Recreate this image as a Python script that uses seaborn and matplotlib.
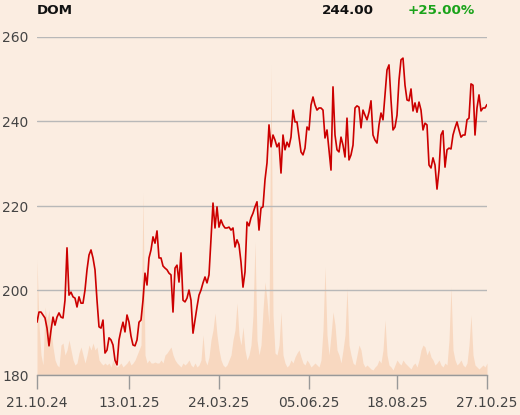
import numpy as np
import matplotlib
matplotlib.use("Agg")
import matplotlib.pyplot as plt
import seaborn as sns

# --------------------------
# Data (one point per ~trading day step)
# --------------------------
price = [
    192.5, 194.9, 194.9, 194.2, 193.5, 191.1, 186.9, 190.6, 193.7, 191.8,
    193.7, 194.7, 193.7, 193.5, 197.7, 210.1, 198.9, 199.6, 198.5, 198.2,
    196.1, 198.5, 197.0, 197.0, 200.1, 204.9, 208.4, 209.6, 207.7, 204.9,
    197.7, 191.4, 191.1, 193.0, 185.2, 185.9, 188.8, 188.3, 187.1, 183.5,
    182.4, 188.3, 190.6, 192.5, 190.2, 194.2, 192.5, 189.2, 187.1, 186.9,
    188.3, 192.5, 193.0, 197.7, 204.1, 201.3, 207.7, 209.6, 212.7, 211.2,
    214.1, 207.7, 207.7, 205.8, 205.3, 204.9, 204.1, 203.7, 194.9, 205.3,
    206.0, 202.0, 208.9, 197.7, 197.3, 198.2, 200.1, 197.7, 189.9, 193.0,
    196.1, 198.9, 200.1, 201.8, 203.2, 201.8, 203.7, 212.0, 220.7, 214.8,
    219.8, 215.0, 216.7, 215.5, 214.8, 214.8, 215.0, 214.3, 214.8, 210.3,
    212.0, 210.8, 206.7, 200.8, 204.4, 216.2, 215.3, 217.2, 218.3, 219.8,
    221.0, 214.3, 219.5, 219.8, 226.2, 230.2, 239.2, 234.0, 236.8, 235.6,
    234.0, 234.9, 227.8, 236.8, 233.3, 235.1, 234.0, 236.3, 242.7, 239.9,
    239.9, 236.3, 232.8, 232.1, 233.7, 238.7, 238.0, 243.9, 245.8, 243.9,
    242.7, 243.2, 243.2, 242.7, 236.1, 238.0, 233.3, 228.5, 248.2, 236.8,
    233.3, 232.8, 236.3, 234.4, 231.6, 240.8, 230.9, 232.1, 234.4, 243.2,
    243.7, 243.4, 238.5, 242.7, 241.5, 240.4, 242.2, 244.9, 236.8, 235.6,
    234.9, 239.2, 242.0, 240.4, 246.3, 252.2, 253.4, 245.1, 238.0, 238.7,
    241.5, 249.8, 254.6, 255.0, 248.6, 245.1, 244.9, 247.7, 242.5, 244.4,
    242.2, 244.6, 242.7, 238.0, 239.6, 239.2, 229.7, 229.0, 231.4, 229.7,
    224.0, 228.5, 236.8, 237.8, 229.2, 233.3, 233.7, 233.5, 236.8, 238.5,
    239.9, 238.0, 236.3, 236.8, 236.8, 240.4, 240.8, 248.9, 248.6, 236.8,
    243.2, 246.3, 242.5, 243.2, 243.2, 244.0,
]

# traded volume (thousands, relative)
volume = [
    115, 50, 20, 10, 68, 55, 65, 45, 28, 15,
    10, 8, 30, 32, 20, 25, 35, 25, 15, 10,
    12, 22, 28, 20, 12, 20, 30, 25, 32, 25,
    28, 15, 12, 10, 12, 10, 12, 8, 15, 10,
    8, 10, 12, 8, 10, 12, 15, 10, 12, 15,
    20, 25, 30, 182, 20, 12, 15, 12, 12, 13,
    12, 12, 15, 12, 20, 22, 25, 28, 20, 15,
    12, 10, 8, 12, 10, 12, 15, 10, 8, 12,
    8, 10, 15, 40, 15, 10, 18, 35, 45, 62,
    40, 25, 15, 10, 8, 10, 15, 20, 35, 45,
    72, 40, 30, 48, 25, 15, 20, 30, 60, 133,
    35, 20, 30, 65, 93, 75, 50, 310, 60, 22,
    20, 30, 63, 20, 12, 8, 10, 15, 12, 18,
    22, 25, 18, 12, 10, 15, 12, 8, 10, 12,
    10, 8, 15, 45, 108, 40, 20, 40, 63, 50,
    25, 20, 12, 25, 40, 87, 30, 20, 12, 10,
    20, 30, 25, 12, 8, 10, 8, 6, 5, 8,
    10, 15, 12, 25, 55, 20, 10, 8, 5, 10,
    15, 12, 10, 15, 12, 10, 8, 6, 10, 12,
    8, 15, 25, 30, 28, 20, 25, 18, 15, 10,
    12, 15, 10, 8, 12, 10, 35, 88, 25, 15,
    10, 12, 15, 10, 8, 12, 30, 60, 20, 10,
    8, 6, 8, 10, 8, 12,
]

tick_labels = ["21.10.24", "13.01.25", "24.03.25", "05.06.25", "18.08.25", "27.10.25"]
tick_pos = [0, 46, 91, 136, 180, 225]
y_ticks = [180, 200, 220, 240, 260]

ticker = "DOM"
last_price = "244.00"
change = "+25.00%"

# --------------------------
# Style
# --------------------------
BG = "#fbede1"
sns.set_theme(style="white", rc={"axes.facecolor": BG, "figure.facecolor": BG})
plt.rcParams["font.family"] = ["DejaVu Sans"]

idx = np.arange(len(price))

fig = plt.figure(figsize=(5.2, 4.15), dpi=100)
ax = fig.add_axes([37 / 520, 40 / 415, 450 / 520, 338 / 415])

# volume area behind the price line
ax_vol = ax.twinx()
ax_vol.fill_between(idx, volume, color="#f8d8c0", lw=0)
ax_vol.set_ylim(0, 338)
ax_vol.set_axis_off()
ax_vol.set_zorder(1)
ax.set_zorder(2)
ax.patch.set_visible(False)

sns.lineplot(x=idx, y=price, ax=ax, color="#cc0000", linewidth=1.2)

ax.set_xlim(0, len(price) - 1)
ax.set_ylim(180, 260)
ax.set_yticks(y_ticks)
ax.set_xticks(tick_pos)
ax.set_xticklabels(tick_labels)
ax.yaxis.grid(True, color="#b8b8b8", linewidth=1)
ax.xaxis.grid(False)
ax.set_xlabel("")
ax.set_ylabel("")

for side in ["top", "right", "left"]:
    ax.spines[side].set_visible(False)
ax.spines["bottom"].set_color("#999999")
ax.spines["bottom"].set_linewidth(1)
ax.tick_params(axis="x", length=10, width=1, color="#999999", labelsize=10,
               labelcolor="#444444", pad=5, bottom=True)
ax.tick_params(axis="y", length=0, labelsize=10, labelcolor="#444444", pad=6)

# header
fig.text(37 / 520, 1 - 10 / 415, ticker, fontsize=9.7, fontweight="bold",
         color="#111111", va="center", ha="left")
fig.text(374 / 520, 1 - 10 / 415, last_price, fontsize=9.7, fontweight="bold",
         color="#111111", va="center", ha="right")
fig.text(475 / 520, 1 - 10 / 415, change, fontsize=9.7, fontweight="bold",
         color="#1aa31a", va="center", ha="right")

fig.savefig("out.png", dpi=100, facecolor=BG)
